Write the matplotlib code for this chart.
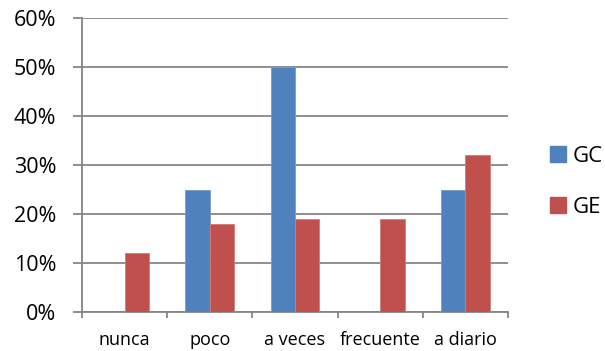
import matplotlib.pyplot as plt
import numpy as np
from matplotlib.patches import Patch

categories = ["nunca", "poco", "a veces", "frecuente", "a diario"]
gc_values = [0, 25, 50, 0, 25]
ge_values = [12, 18, 19, 19, 32]
y_ticks = [0, 10, 20, 30, 40, 50, 60]

blue = "#4F81BD"
red = "#C0504D"
axis_gray = "#868686"

plt.rcParams['font.family'] = ['Open Sans', 'DejaVu Sans']

fig = plt.figure(figsize=(6.05, 3.51), dpi=100)
ax = fig.add_axes([82 / 605, 39 / 351, 426 / 605, 294 / 351])

x = np.arange(len(categories))
w = 0.286
ax.bar(x - w / 2, gc_values, w, color=blue, edgecolor="#7A9CCB", linewidth=0.6, zorder=3)
ax.bar(x + w / 2, ge_values, w, color=red, edgecolor="#D07C79", linewidth=0.6, zorder=3)

ax.set_xlim(-0.5, len(categories) - 0.5)
ax.set_ylim(0, 60)
ax.set_yticks(y_ticks)
ax.set_yticklabels([f"{v}%" for v in y_ticks], fontsize=15.5)
ax.yaxis.grid(True, color=axis_gray, linewidth=1.3, zorder=0)
ax.set_axisbelow(True)

# category boundaries get the tick marks, labels sit at the centers
ax.set_xticks(np.arange(-0.5, len(categories), 1.0))
ax.set_xticklabels([])
ax.set_xticks(x, minor=True)
ax.set_xticklabels(categories, minor=True, fontsize=13)
ax.tick_params(axis="x", which="minor", length=0, pad=14)
ax.tick_params(axis="x", which="major", length=4.5, width=1.3, color=axis_gray)
ax.tick_params(axis="y", length=6.5, width=1.3, color=axis_gray, pad=12)

for side in ["top", "right"]:
    ax.spines[side].set_visible(False)
for side in ["left", "bottom"]:
    ax.spines[side].set_color(axis_gray)
    ax.spines[side].set_linewidth(1.3)

handles = [Patch(color=blue, label="GC"), Patch(color=red, label="GE")]
fig.legend(handles=handles, loc="upper left", bbox_to_anchor=(550 / 605, 1 - 146 / 351),
           frameon=False, fontsize=16, handlelength=0.7, handleheight=0.7,
           handletextpad=0.3, labelspacing=1.35, borderaxespad=0, borderpad=0)

fig.savefig("out.png", dpi=100)
